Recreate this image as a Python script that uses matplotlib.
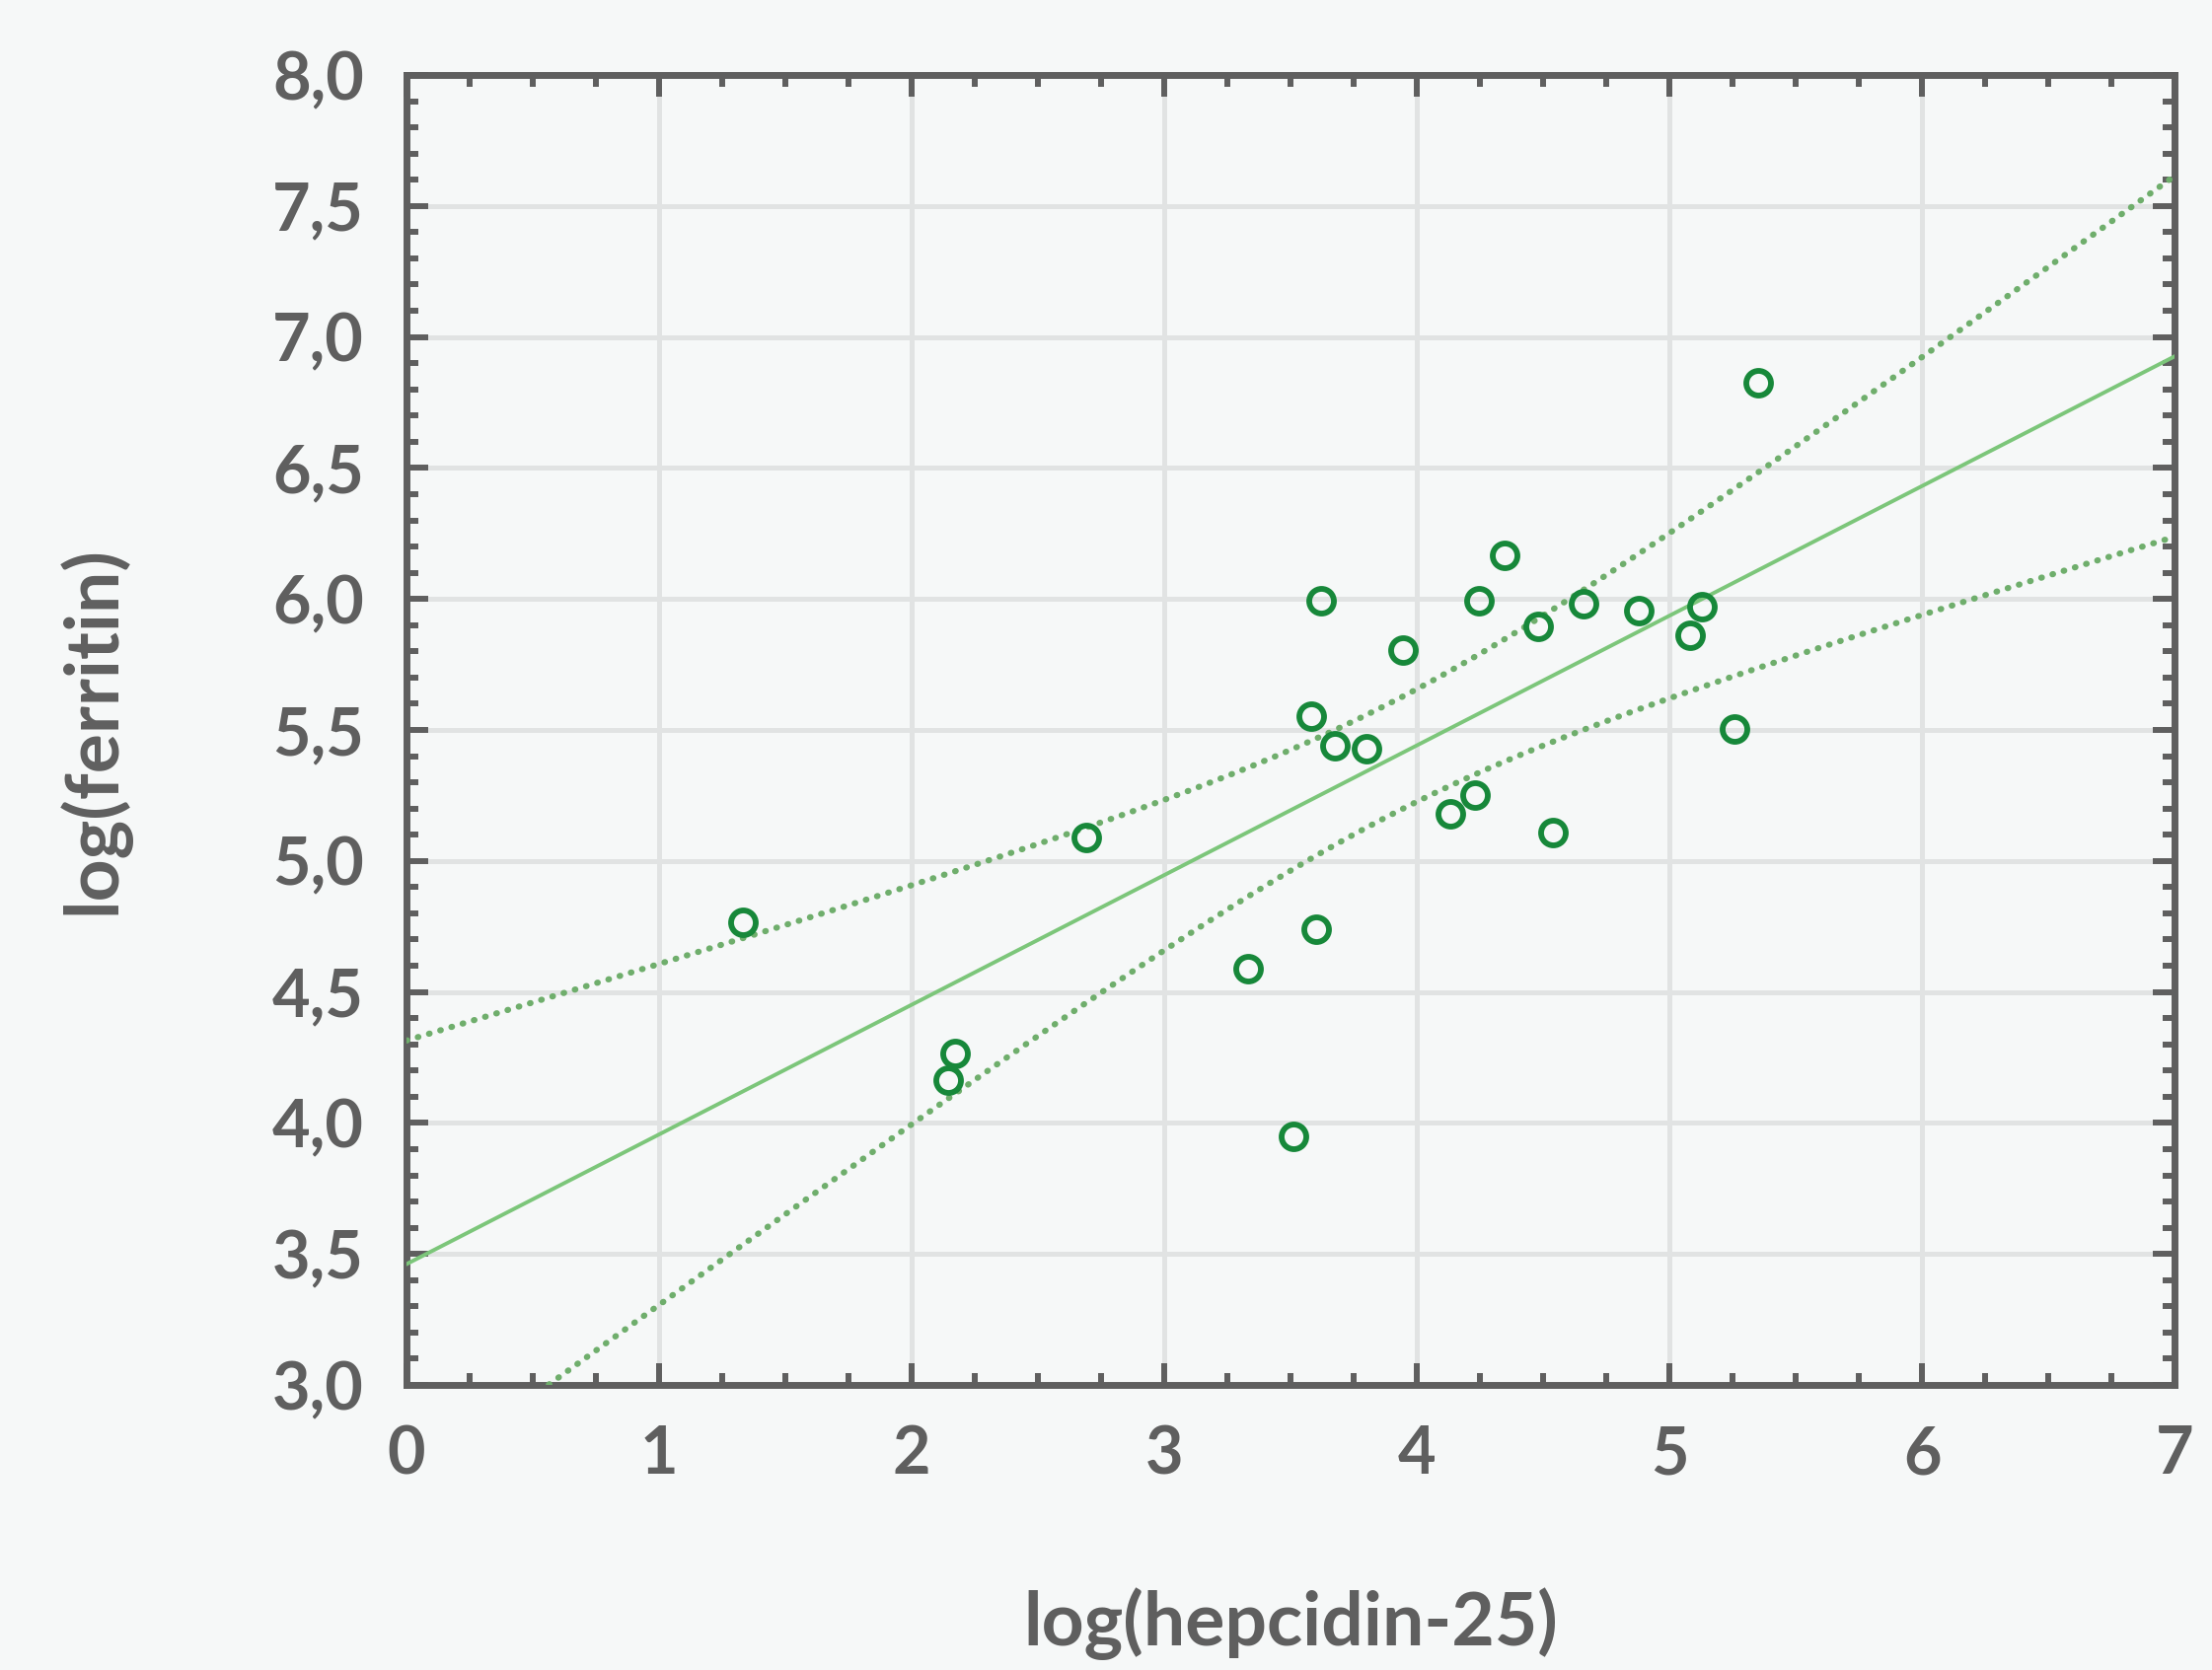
import numpy as np
import matplotlib
matplotlib.use("Agg")
import matplotlib.pyplot as plt
import matplotlib.ticker as mticker

# data (log hepcidin-25 vs log ferritin)
log_hepcidin = [1.33, 2.69, 2.17, 2.145, 3.33, 3.51, 3.60, 3.62, 3.58, 3.676,
                3.80, 3.944, 4.134, 4.229, 4.246, 4.346, 4.48, 4.54, 4.659,
                4.877, 5.08, 5.128, 5.257, 5.352]
log_ferritin = [4.765, 5.088, 4.265, 4.163, 4.588, 3.947, 4.738, 5.992, 5.551,
                5.438, 5.427, 5.804, 5.180, 5.250, 5.992, 6.165, 5.896, 5.110,
                5.982, 5.955, 5.863, 5.971, 5.503, 6.827]

BG     = "#f6f8f8"
AXCOL  = "#5f5f5f"
GRID   = "#e1e3e3"
PT     = "#17883a"
FIT    = "#7cc67a"
BAND   = "#6fae6c"

plt.rcParams.update({"font.family": ["Lato", "DejaVu Sans"], "font.weight": "bold"})

x = np.array(log_hepcidin)
y = np.array(log_ferritin)
n = len(x)

# OLS fit with 95% confidence band for the mean
slope, icpt = np.polyfit(x, y, 1)
resid = y - (icpt + slope * x)
s = np.sqrt(np.sum(resid ** 2) / (n - 2))
sxx = np.sum((x - x.mean()) ** 2)
t = 2.074  # t(0.975, 22)
xs = np.linspace(0, 7, 300)
yh = icpt + slope * xs
hw = t * s * np.sqrt(1 / n + (xs - x.mean()) ** 2 / sxx)

fig = plt.figure(figsize=(22.42, 16.93), dpi=100, facecolor=BG)
ax = fig.add_axes([0.1838, 0.1707, 0.7993, 0.7844], facecolor=BG)

ax.plot(xs, yh, color=FIT, lw=2.8, zorder=3)
for band in (yh + hw, yh - hw):
    ax.plot(xs, band, color=BAND, lw=4.5, ls=(0, (0.1, 1.8)),
            dash_capstyle="round", zorder=3)
ax.plot(x, y, "o", ms=18, mfc="none", mec=PT, mew=4.2, zorder=4)

ax.set_xlim(0, 7)
ax.set_ylim(3, 8)
ax.xaxis.set_major_locator(mticker.MultipleLocator(1))
ax.xaxis.set_minor_locator(mticker.MultipleLocator(0.25))
ax.yaxis.set_major_locator(mticker.MultipleLocator(0.5))
ax.yaxis.set_minor_locator(mticker.MultipleLocator(0.1))
ax.yaxis.set_major_formatter(mticker.FuncFormatter(lambda v, p: f"{v:.1f}".replace(".", ",")))
ax.xaxis.set_major_formatter(mticker.FuncFormatter(lambda v, p: f"{v:.0f}"))

ax.grid(True, which="major", color=GRID, lw=3.6, zorder=0)
ax.set_axisbelow(True)
for sp in ax.spines.values():
    sp.set_color(AXCOL)
    sp.set_linewidth(5)
ax.tick_params(which="both", direction="in", top=True, right=True,
               color=AXCOL, width=4.3)
ax.tick_params(which="major", length=16, labelsize=48, labelcolor=AXCOL)
ax.tick_params(axis="y", which="major", pad=31)
ax.tick_params(axis="x", which="major", pad=29)
ax.tick_params(which="minor", length=8.5)

ax.set_xlabel("log(hepcidin-25)", fontsize=54, color=AXCOL, fontweight="bold", labelpad=74)
ax.set_ylabel("log(ferritin)", fontsize=54, color=AXCOL, fontweight="bold", labelpad=104)

fig.savefig("out.png", dpi=100, facecolor=BG)
